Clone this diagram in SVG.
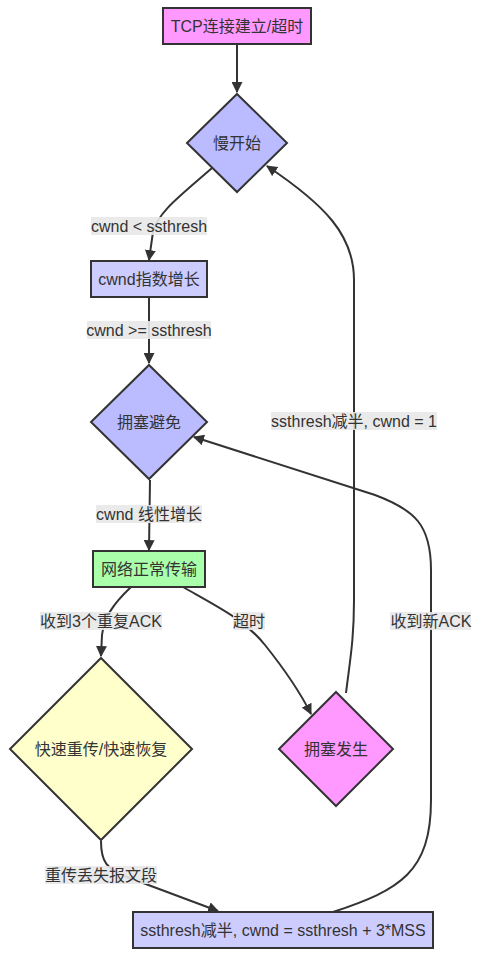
<svg xmlns="http://www.w3.org/2000/svg" width="480" height="957" viewBox="0 0 480 957">
<style>
text{font-family:"Liberation Sans","Noto Sans CJK SC",sans-serif;font-size:16px;fill:#333;text-anchor:middle;dominant-baseline:central}
.n{stroke:#333;stroke-width:2}
.e{fill:none;stroke:#333;stroke-width:2}
.lb{fill:#e8e8e8;opacity:0.9}
</style>
<defs>
<marker id="ah" viewBox="0 0 10 10" refX="9" refY="5" markerWidth="11" markerHeight="11" markerUnits="userSpaceOnUse" orient="auto">
<path d="M0,0 L10,5 L0,10 z" fill="#333"/>
</marker>
</defs>
<rect width="480" height="957" fill="#fff"/>
<g id="edges">
<path class="e" d="M237,44 L237,92" marker-end="url(#ah)"/>
<path class="e" d="M212,168 C180,196 158,212 153,232 L149,260" marker-end="url(#ah)"/>
<path class="e" d="M149,297 L149,363" marker-end="url(#ah)"/>
<path class="e" d="M150,480 L149,550" marker-end="url(#ah)"/>
<path class="e" d="M131,587 C112,605 104,618 102,635 L101,656" marker-end="url(#ah)"/>
<path class="e" d="M183,587 C220,608 245,620 265,645 C285,670 300,692 311,714" marker-end="url(#ah)"/>
<path class="e" d="M346,693 C350,660 354,640 354,600 L354,280 C354,235 325,205 267,166" marker-end="url(#ah)"/>
<path class="e" d="M101,841 C101,860 104,870 135,880 L218,911" marker-end="url(#ah)"/>
<path class="e" d="M333,912 C400,890 431,872 431,800 L431,570 C431,525 415,510 375,495 L194,437" marker-end="url(#ah)"/>
</g>
<g id="labels">
<rect class="lb" x="91" y="217" width="116" height="18"/><text x="149" y="226">cwnd &lt; ssthresh</text>
<rect class="lb" x="87" y="321" width="124" height="18"/><text x="149" y="330">cwnd &gt;= ssthresh</text>
<rect class="lb" x="96" y="505" width="106" height="18"/><text x="149" y="514">cwnd 线性增长</text>
<rect class="lb" x="40" y="612" width="122" height="18"/><text x="101" y="621">收到3个重复ACK</text>
<rect class="lb" x="233" y="612" width="32" height="18"/><text x="249" y="621">超时</text>
<rect class="lb" x="271" y="412" width="166" height="18"/><text x="354" y="421">ssthresh减半, cwnd = 1</text>
<rect class="lb" x="390" y="612" width="81" height="18"/><text x="431" y="621">收到新ACK</text>
<rect class="lb" x="45" y="866" width="112" height="18"/><text x="101" y="875">重传丢失报文段</text>
</g>
<g id="start"><rect class="n" x="163" y="8" width="148" height="36" fill="#f9f"/><text x="237" y="26">TCP连接建立/超时</text></g>
<g id="slowstart"><polygon class="n" points="237,94 287,143 237,192 187,143" fill="#bbf"/><text x="237" y="143">慢开始</text></g>
<g id="exp"><rect class="n" x="91" y="261" width="116" height="36" fill="#ccf"/><text x="149" y="279">cwnd指数增长</text></g>
<g id="ca"><polygon class="n" points="149,365 207,422 149,479 91,422" fill="#bbf"/><text x="149" y="422">拥塞避免</text></g>
<g id="normal"><rect class="n" x="93" y="551" width="112" height="36" fill="#afa"/><text x="149" y="569">网络正常传输</text></g>
<g id="fast"><polygon class="n" points="101,658 192,749 101,840 10,749" fill="#ffc"/><text x="101" y="749">快速重传/快速恢复</text></g>
<g id="congestion"><polygon class="n" points="336,692 393,749 336,806 279,749" fill="#f9f"/><text x="336" y="749">拥塞发生</text></g>
<g id="halve"><rect class="n" x="133" y="912" width="300" height="36" fill="#ccf"/><text x="283" y="930">ssthresh减半, cwnd = ssthresh + 3*MSS</text></g>
</svg>
